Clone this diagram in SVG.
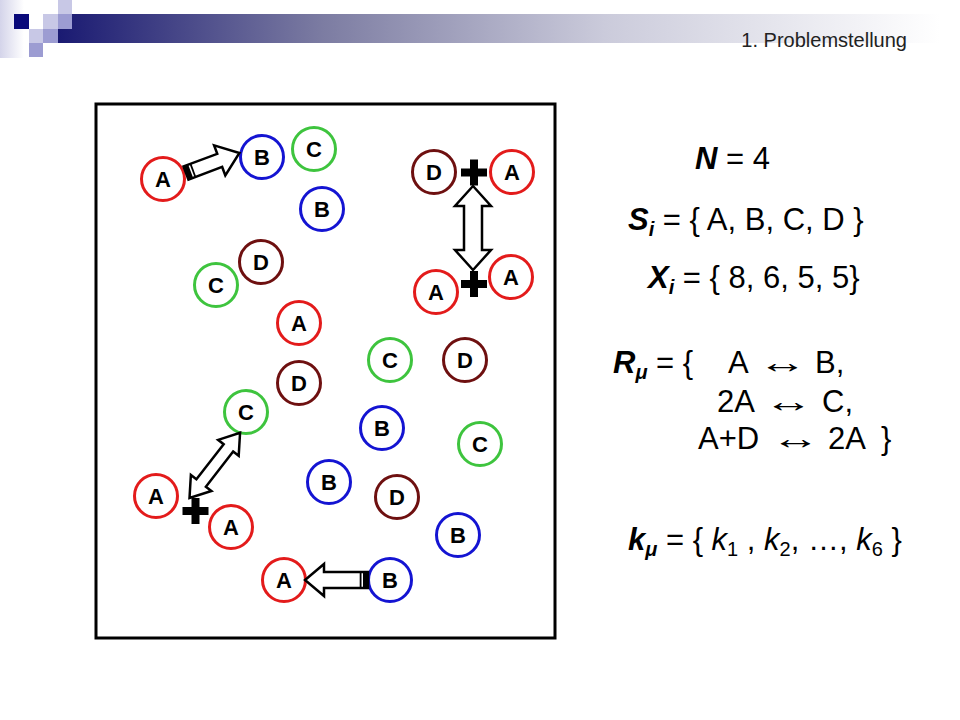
<svg xmlns="http://www.w3.org/2000/svg" width="960" height="720" viewBox="0 0 960 720">
<defs>
<linearGradient id="bar" x1="58" y1="0" x2="940" y2="0" gradientUnits="userSpaceOnUse">
<stop offset="0" stop-color="#1a1a72"/>
<stop offset="0.3" stop-color="#7c7ca2"/>
<stop offset="0.62" stop-color="#cbcbdb"/>
<stop offset="1" stop-color="#ffffff"/>
</linearGradient>
<linearGradient id="strip" x1="0" y1="0" x2="24" y2="0" gradientUnits="userSpaceOnUse">
<stop offset="0" stop-color="#d4d4ea"/>
<stop offset="1" stop-color="#ffffff"/>
</linearGradient>
</defs>
<style>
.n circle{fill:#fff;stroke-width:3}
.n text{font-family:"Liberation Sans",Arial,sans-serif;font-weight:bold;font-size:22px;text-anchor:middle;fill:#000}
.ra circle{stroke:#e31b1b}
.rb circle{stroke:#1414d2}
.rc circle{stroke:#3ec43e}
.rd circle{stroke:#6e1010}
.arr{fill:#fff;stroke:#000;stroke-width:2.5;stroke-linejoin:miter}
.m{font-family:"Liberation Sans",Arial,sans-serif;font-size:31px;fill:#000}
.bi{font-weight:bold;font-style:italic}
.it{font-style:italic}
.sub{font-size:20px}
.hd{font-family:"Liberation Sans",Arial,sans-serif;font-size:20px;fill:#222}
</style>
<rect width="960" height="720" fill="#fff"/>
<g id="header">
<rect x="0" y="0" width="24" height="58" fill="url(#strip)"/>
<rect x="58" y="14" width="882" height="29" fill="url(#bar)"/>
<rect x="14" y="14" width="15" height="15" fill="#0a0a7a"/>
<rect x="43" y="14" width="15" height="15" fill="#c8c8e6"/>
<rect x="58" y="14" width="14" height="15" fill="#9c9cd2"/>
<rect x="58" y="0" width="14" height="14" fill="#c8c8e6"/>
<rect x="29" y="29" width="14" height="14" fill="#c8c8e6"/>
<rect x="43" y="29" width="15" height="14" fill="#9c9cd2"/>
<rect x="29" y="43" width="14" height="14" fill="#9c9cd2"/>
<text class="hd" x="907" y="47" text-anchor="end">1. Problemstellung</text>
</g>
<rect id="frame" x="96" y="104" width="459" height="534" fill="none" stroke="#000" stroke-width="3"/>
<g id="nodes">
<g id="n1" class="n ra"><circle cx="163" cy="179" r="21.5"/><text x="163" y="187">A</text></g>
<g id="n2" class="n rb"><circle cx="262" cy="157" r="21.5"/><text x="262" y="165">B</text></g>
<g id="n3" class="n rc"><circle cx="314" cy="149" r="21.5"/><text x="314" y="157">C</text></g>
<g id="n4" class="n rb"><circle cx="322" cy="209" r="21.5"/><text x="322" y="217">B</text></g>
<g id="n5" class="n rd"><circle cx="261" cy="262" r="21.5"/><text x="261" y="270">D</text></g>
<g id="n6" class="n rc"><circle cx="216" cy="285" r="21.5"/><text x="216" y="293">C</text></g>
<g id="n7" class="n rd"><circle cx="434" cy="172" r="21.5"/><text x="434" y="180">D</text></g>
<g id="n8" class="n ra"><circle cx="512" cy="172" r="21.5"/><text x="512" y="180">A</text></g>
<g id="n9" class="n ra"><circle cx="436" cy="292" r="21.5"/><text x="436" y="300">A</text></g>
<g id="n10" class="n ra"><circle cx="511" cy="277" r="21.5"/><text x="511" y="285">A</text></g>
<g id="n11" class="n ra"><circle cx="299" cy="323" r="21.5"/><text x="299" y="331">A</text></g>
<g id="n12" class="n rc"><circle cx="390" cy="360" r="21.5"/><text x="390" y="368">C</text></g>
<g id="n13" class="n rd"><circle cx="465" cy="360" r="21.5"/><text x="465" y="368">D</text></g>
<g id="n14" class="n rd"><circle cx="299" cy="383" r="21.5"/><text x="299" y="391">D</text></g>
<g id="n15" class="n rc"><circle cx="246" cy="412" r="21.5"/><text x="246" y="420">C</text></g>
<g id="n16" class="n rb"><circle cx="382" cy="428" r="21.5"/><text x="382" y="436">B</text></g>
<g id="n17" class="n rc"><circle cx="480" cy="444" r="21.5"/><text x="480" y="452">C</text></g>
<g id="n18" class="n rb"><circle cx="329" cy="482" r="21.5"/><text x="329" y="490">B</text></g>
<g id="n19" class="n rd"><circle cx="397" cy="497" r="21.5"/><text x="397" y="505">D</text></g>
<g id="n20" class="n ra"><circle cx="156" cy="496" r="21.5"/><text x="156" y="504">A</text></g>
<g id="n21" class="n ra"><circle cx="231" cy="527" r="21.5"/><text x="231" y="535">A</text></g>
<g id="n22" class="n rb"><circle cx="458" cy="535" r="21.5"/><text x="458" y="543">B</text></g>
<g id="n23" class="n ra"><circle cx="284" cy="580" r="21.5"/><text x="284" y="588">A</text></g>
<g id="n24" class="n rb"><circle cx="390" cy="580" r="21.5"/><text x="390" y="588">B</text></g>
</g>
<g id="connectors">
<g transform="translate(186,173) rotate(-20.5)">
<path class="arr" d="M0,-7 L36,-7 L36,-16 L57,0 L36,16 L36,7 L0,7 Z"/>
<rect x="0" y="-7" width="5" height="14" fill="#000"/>
<rect x="6.5" y="-7" width="1.8" height="14" fill="#000"/>
</g>
<g transform="translate(368,580) rotate(180)">
<path class="arr" d="M0,-8 L44,-8 L44,-16 L63,0 L44,16 L44,8 L0,8 Z"/>
<rect x="0" y="-8" width="5" height="16" fill="#000"/>
<rect x="6.5" y="-8" width="1.8" height="16" fill="#000"/>
</g>
<path class="arr" transform="translate(473,186) rotate(90)" d="M0,0 L20,-18 L20,-9 L64,-9 L64,-18 L84,0 L64,18 L64,9 L20,9 L20,18 Z"/>
<path class="arr" transform="translate(189.5,498) rotate(-52.2)" d="M0,0 L19,-13 L19,-6 L63.5,-6 L63.5,-13 L82.5,0 L63.5,13 L63.5,6 L19,6 L19,13 Z"/>
<g fill="#000">
<rect x="461" y="168.5" width="26" height="8"/><rect x="470" y="159.5" width="8" height="26"/>
<rect x="461" y="280" width="26" height="8"/><rect x="470" y="271" width="8" height="26"/>
<rect x="182.5" y="507" width="26" height="8"/><rect x="191.5" y="498" width="8" height="26"/>
</g>
</g>
<g id="formulas">
<text class="m" x="695" y="169"><tspan class="bi">N</tspan> = 4</text>
<text class="m" x="628" y="230"><tspan class="bi">S</tspan><tspan class="bi sub" dy="6">i</tspan><tspan dy="-6"> = { A, B, C, D }</tspan></text>
<text class="m" x="648" y="288"><tspan class="bi">X</tspan><tspan class="bi sub" dy="6">i</tspan><tspan dy="-6"> = { 8, 6, 5, 5}</tspan></text>
<text class="m" x="613" y="373"><tspan class="bi">R</tspan><tspan class="bi sub" dy="6">μ</tspan><tspan dy="-6"> = {</tspan></text>
<text class="m" x="728" y="373">A</text><text class="m" transform="translate(758,373) scale(1.6,1)">↔</text><text class="m" x="815" y="373">B,</text>
<text class="m" x="717" y="412">2A</text><text class="m" transform="translate(764,412) scale(1.6,1)">↔</text><text class="m" x="822" y="412">C,</text>
<text class="m" x="698" y="449">A+D</text><text class="m" transform="translate(771,449) scale(1.6,1)">↔</text><text class="m" x="828" y="449">2A</text><text class="m" x="881" y="449">}</text>
<text class="m" x="628" y="550"><tspan class="bi">k</tspan><tspan class="bi sub" dy="6">μ</tspan><tspan dy="-6"> = { </tspan><tspan class="it">k</tspan><tspan class="sub" dy="6">1</tspan><tspan dy="-6"> , </tspan><tspan class="it">k</tspan><tspan class="sub" dy="6">2</tspan><tspan dy="-6">, …, </tspan><tspan class="it">k</tspan><tspan class="sub" dy="6">6</tspan><tspan dy="-6"> }</tspan></text>
</g>
</svg>
